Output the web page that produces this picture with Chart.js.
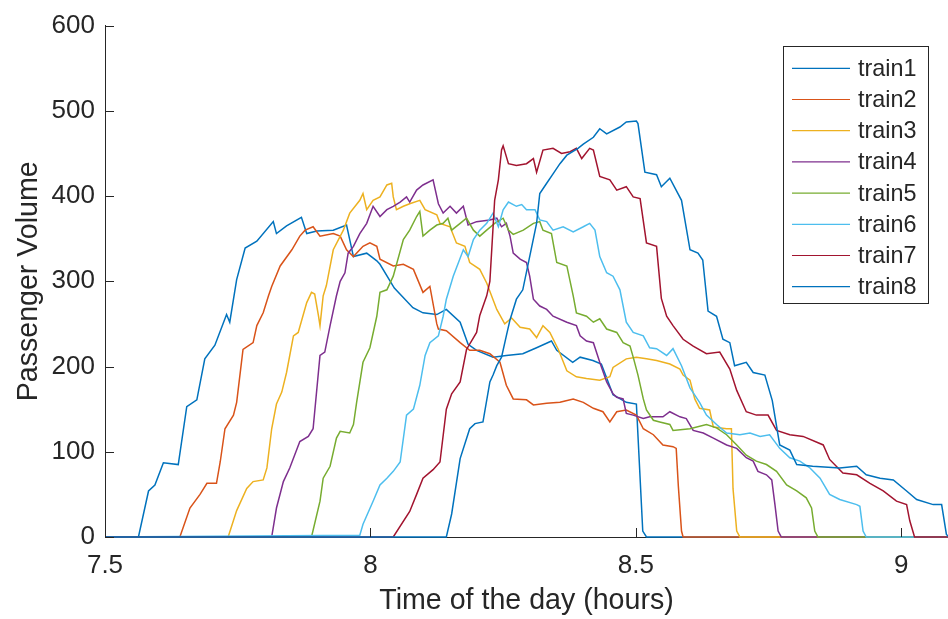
<!DOCTYPE html>
<html>
<head>
<meta charset="utf-8">
<script src="https://cdn.jsdelivr.net/npm/chart.js@4.4.1/dist/chart.umd.min.js"></script>
<style>
html,body{margin:0;padding:0;background:#fff;}
#wrap{width:948px;height:619px;position:relative;}
</style>
</head>
<body>
<div id="wrap"><canvas id="c" width="948" height="619"></canvas></div>
<script>
// ---- data (time of day in hours, passenger volume) ----
const seriesNames = ["train1","train2","train3","train4","train5","train6","train7","train8"];
const xTicks = [7.5, 8, 8.5, 9];
const yTicks = [0, 100, 200, 300, 400, 500, 600];

const t1 = [7.5,7.563,7.582,7.594,7.610,7.638,7.654,7.673,7.688,7.707,7.729,7.735,7.748,7.764,7.786,7.817,7.823,7.842,7.870,7.880,7.899,7.930,7.955,7.968,7.993,8.012,8.018,8.045,8.080,8.099,8.125,8.143,8.169,8.184,8.200,8.231,8.256,8.287,8.313,8.341,8.351,8.381,8.395,8.419,8.435,8.457,8.482,8.501,8.513,8.520,9.09];
const v1 = [0,0,54,61,87,85,153,161,209,225,261,252,302,339,347,370,356,365,375,356,359,360,366,329,333,324,320,292,269,263,261,267,252,226,219,211,213,215,222,230,219,205,211,207,203,167,158,156,7,0,0];

const t2 = [7.5,7.641,7.660,7.679,7.692,7.710,7.717,7.726,7.742,7.748,7.760,7.779,7.786,7.798,7.808,7.814,7.830,7.852,7.867,7.877,7.892,7.905,7.930,7.943,7.955,7.968,7.986,7.999,8.012,8.018,8.043,8.062,8.081,8.099,8.112,8.125,8.128,8.143,8.169,8.187,8.206,8.225,8.244,8.256,8.269,8.294,8.307,8.332,8.357,8.382,8.401,8.420,8.438,8.451,8.464,8.482,8.501,8.514,8.533,8.551,8.570,8.576,8.580,8.586,8.589,9.09];
const v2 = [0,0,34,50,63,63,88,127,143,158,220,228,248,263,283,294,318,337,353,360,364,353,356,353,337,329,341,345,341,326,318,320,314,287,294,250,244,242,228,219,219,215,205,178,162,161,155,157,158,162,158,151,147,135,147,149,143,127,120,108,106,104,60,7,0,0];

const t3 = [7.5,7.732,7.748,7.767,7.779,7.798,7.805,7.814,7.823,7.833,7.842,7.855,7.864,7.880,7.889,7.895,7.902,7.905,7.911,7.917,7.930,7.949,7.961,7.980,7.986,7.993,8.005,8.018,8.031,8.040,8.043,8.049,8.062,8.074,8.093,8.103,8.125,8.131,8.150,8.162,8.178,8.187,8.206,8.219,8.238,8.253,8.266,8.282,8.300,8.313,8.325,8.338,8.354,8.370,8.388,8.407,8.432,8.451,8.457,8.482,8.501,8.520,8.539,8.564,8.583,8.589,8.602,8.611,8.620,8.639,8.646,8.671,8.680,8.683,8.690,8.696,9.09];
const v3 = [0,0,31,57,65,67,81,127,156,170,193,236,240,275,287,285,260,248,283,295,337,360,380,395,403,384,395,399,413,415,399,384,388,391,395,384,378,368,364,345,341,322,314,298,267,250,257,246,244,234,248,240,220,195,188,186,184,188,199,209,211,209,207,203,197,190,184,162,151,149,129,127,127,57,7,0,0];

const t4 = [7.5,7.814,7.823,7.836,7.848,7.867,7.883,7.892,7.905,7.914,7.924,7.936,7.943,7.952,7.958,7.968,7.980,7.993,8.005,8.018,8.031,8.043,8.056,8.068,8.074,8.087,8.099,8.118,8.128,8.137,8.150,8.162,8.175,8.184,8.200,8.225,8.238,8.247,8.256,8.263,8.269,8.282,8.294,8.300,8.307,8.319,8.332,8.344,8.370,8.388,8.395,8.407,8.420,8.432,8.445,8.457,8.464,8.476,8.482,8.495,8.514,8.526,8.551,8.564,8.583,8.595,8.608,8.627,8.646,8.671,8.690,8.708,8.721,8.730,8.746,8.756,8.762,8.768,8.774,9.09];
const v4 = [0,0,34,65,81,112,118,127,213,217,248,283,300,310,333,341,356,368,388,376,384,388,393,399,393,407,413,419,391,380,388,380,388,366,370,372,374,364,368,353,333,326,322,306,279,271,267,259,252,248,236,230,228,205,182,168,164,162,145,143,139,141,141,147,141,139,125,122,116,108,104,93,89,77,73,67,38,7,0,0];

const t5 = [7.5,7.889,7.905,7.911,7.924,7.936,7.943,7.961,7.968,7.974,7.986,7.999,8.012,8.018,8.031,8.043,8.062,8.074,8.087,8.093,8.099,8.112,8.125,8.137,8.146,8.153,8.169,8.181,8.194,8.206,8.219,8.234,8.250,8.260,8.269,8.288,8.307,8.319,8.325,8.341,8.351,8.370,8.382,8.388,8.407,8.420,8.432,8.445,8.464,8.476,8.489,8.495,8.504,8.514,8.520,8.533,8.545,8.564,8.570,8.602,8.633,8.652,8.671,8.690,8.708,8.727,8.746,8.765,8.784,8.803,8.821,8.831,8.837,8.843,9.09];
const v5 = [0,0,42,69,83,116,124,122,132,158,205,222,259,287,290,306,349,360,376,382,353,360,366,368,374,360,368,374,360,353,360,368,374,360,355,360,368,370,360,356,322,318,283,263,259,252,256,244,240,228,224,211,190,162,149,137,135,132,125,127,132,128,120,108,96,89,85,77,61,54,46,34,7,0,0];

const t6 = [7.5,7.980,7.986,8.005,8.018,8.031,8.043,8.056,8.068,8.081,8.093,8.103,8.112,8.128,8.137,8.143,8.156,8.175,8.184,8.194,8.206,8.219,8.231,8.241,8.250,8.260,8.275,8.285,8.294,8.310,8.319,8.332,8.344,8.363,8.382,8.401,8.413,8.423,8.432,8.445,8.457,8.470,8.482,8.495,8.514,8.526,8.539,8.558,8.570,8.586,8.602,8.620,8.633,8.652,8.671,8.696,8.715,8.734,8.752,8.771,8.790,8.809,8.828,8.847,8.865,8.884,8.916,8.922,8.928,8.934,9.09];
const v6 = [0,2,15,42,61,69,77,88,143,150,178,213,228,236,259,279,306,337,329,349,360,368,380,364,384,393,388,390,384,384,372,370,360,364,358,364,368,360,329,310,306,290,252,240,236,222,221,213,221,201,175,158,143,132,122,120,122,118,120,104,93,89,81,69,50,44,38,36,7,0,0];

const t7 = [7.5,8.043,8.074,8.087,8.099,8.118,8.131,8.143,8.153,8.169,8.181,8.200,8.206,8.219,8.225,8.234,8.241,8.247,8.250,8.260,8.275,8.294,8.307,8.313,8.325,8.344,8.360,8.376,8.388,8.398,8.413,8.420,8.432,8.451,8.464,8.482,8.495,8.508,8.520,8.539,8.548,8.558,8.570,8.589,8.608,8.633,8.658,8.677,8.690,8.708,8.727,8.749,8.765,8.790,8.815,8.853,8.865,8.890,8.916,8.941,8.966,8.991,9.010,9.016,9.025,9.09];
const v7 = [0,0,30,50,69,79,88,150,168,182,220,240,260,283,300,395,419,454,459,438,436,438,444,428,454,456,450,452,456,444,456,454,423,419,407,411,399,397,345,341,280,259,248,232,224,215,217,197,172,147,143,143,125,120,118,108,91,75,73,63,54,42,38,19,0,0];

const t8 = [7.5,8.143,8.153,8.169,8.187,8.197,8.212,8.225,8.231,8.238,8.247,8.256,8.263,8.275,8.287,8.313,8.319,8.332,8.344,8.357,8.370,8.391,8.401,8.420,8.432,8.445,8.470,8.482,8.501,8.504,8.517,8.539,8.548,8.564,8.586,8.602,8.617,8.626,8.636,8.652,8.664,8.677,8.686,8.708,8.721,8.743,8.757,8.771,8.790,8.803,8.833,8.884,8.916,8.934,8.960,8.985,9.010,9.029,9.060,9.076,9.085,9.09];
const v8 = [0,0,27,92,127,133,135,182,190,201,211,236,255,279,290,368,403,415,426,438,448,456,461,469,479,473,481,487,488,485,428,425,411,421,395,337,333,325,265,259,232,228,201,205,193,190,160,108,102,85,83,81,83,73,69,67,54,44,38,38,3,0];

const times = [t1,t2,t3,t4,t5,t6,t7,t8];
const volumes = [v1,v2,v3,v4,v5,v6,v7,v8];
const colors = ["#0072BD","#D95319","#EDB120","#7E2F8E","#77AC30","#4DBEEE","#A2142F","#0072BD"];

const AXIS_COLOR = "#262626";
const FONT = "'Liberation Sans', Arial, Helvetica, sans-serif";

const datasets = seriesNames.map((name, i) => ({
  label: name,
  data: times[i].map((t, j) => ({x: t, y: volumes[i][j]})),
  borderColor: colors[i],
  backgroundColor: colors[i],
  borderWidth: 1.5,
  pointRadius: 0,
  tension: 0,
  fill: false,
  order: seriesNames.length - i,
  clip: {left: 0, top: 0, right: 0, bottom: 3}
}));

const innerTicks = {
  id: 'innerTicks',
  afterDraw(chart) {
    const ctx = chart.ctx, a = chart.chartArea;
    const xs = chart.scales.x, ys = chart.scales.y;
    ctx.save();
    ctx.strokeStyle = AXIS_COLOR;
    ctx.lineWidth = 1;
    ctx.beginPath();
    yTicks.forEach(v => {
      const y = Math.round(ys.getPixelForValue(v)) + 0.5;
      ctx.moveTo(a.left, y); ctx.lineTo(a.left + 9, y);
    });
    xTicks.forEach(v => {
      const x = Math.round(xs.getPixelForValue(v)) + 0.5;
      ctx.moveTo(x, a.bottom); ctx.lineTo(x, a.bottom - 9);
    });
    ctx.stroke();
    ctx.restore();
  }
};

const boxLegend = {
  id: 'boxLegend',
  afterDraw(chart) {
    const ctx = chart.ctx;
    const bx = 783.5, by = 46.5, bw = 145, bh = 257;
    ctx.save();
    ctx.fillStyle = '#ffffff';
    ctx.fillRect(bx, by, bw, bh);
    ctx.strokeStyle = AXIS_COLOR;
    ctx.lineWidth = 1;
    ctx.strokeRect(bx, by, bw, bh);
    ctx.font = "23.4px " + FONT;
    ctx.textBaseline = 'middle';
    ctx.textAlign = 'left';
    chart.data.datasets.forEach((ds, i) => {
      const y = 68.3 + i * 31.2;
      ctx.strokeStyle = ds.borderColor;
      ctx.lineWidth = 1.2;
      ctx.beginPath();
      ctx.moveTo(792, y); ctx.lineTo(850, y);
      ctx.stroke();
      ctx.fillStyle = AXIS_COLOR;
      ctx.fillText(ds.label, 858, y + 1);
    });
    ctx.restore();
  }
};

new Chart(document.getElementById('c'), {
  type: 'line',
  data: { datasets },
  plugins: [innerTicks, boxLegend],
  options: {
    responsive: false,
    devicePixelRatio: 1,
    animation: false,
    parsing: true,
    layout: { padding: { left: 0, right: 0, top: 21, bottom: 0 } },
    plugins: { legend: { display: false }, tooltip: { enabled: false } },
    scales: {
      x: {
        type: 'linear',
        min: 7.5, max: 9.088,
        afterBuildTicks: s => { s.ticks = xTicks.map(v => ({value: v})); },
        afterFit: s => { s.height = 82; },
        grid: { display: true, drawOnChartArea: false, drawTicks: false },
        border: { display: true, color: AXIS_COLOR, width: 1 },
        ticks: { color: AXIS_COLOR, padding: 13, font: { family: FONT, size: 26 }, maxRotation: 0, autoSkip: false, includeBounds: false,
                 callback: v => String(v) },
        title: { display: true, text: 'Time of the day (hours)', color: AXIS_COLOR, font: { family: FONT, size: 28.6 }, padding: { top: 0, bottom: 1 } }
      },
      y: {
        type: 'linear',
        min: 0, max: 600,
        afterBuildTicks: s => { s.ticks = yTicks.map(v => ({value: v})); },
        afterFit: s => { s.width = 105; },
        grid: { display: true, drawOnChartArea: false, drawTicks: false },
        border: { display: true, color: AXIS_COLOR, width: 1 },
        ticks: { color: AXIS_COLOR, padding: 10, font: { family: FONT, size: 26 }, includeBounds: false,
                 callback: v => String(v) },
        title: { display: true, text: 'Passenger Volume', color: AXIS_COLOR, font: { family: FONT, size: 28.6 }, padding: { top: 12, bottom: 0 } }
      }
    }
  }
});
</script>
</body>
</html>
